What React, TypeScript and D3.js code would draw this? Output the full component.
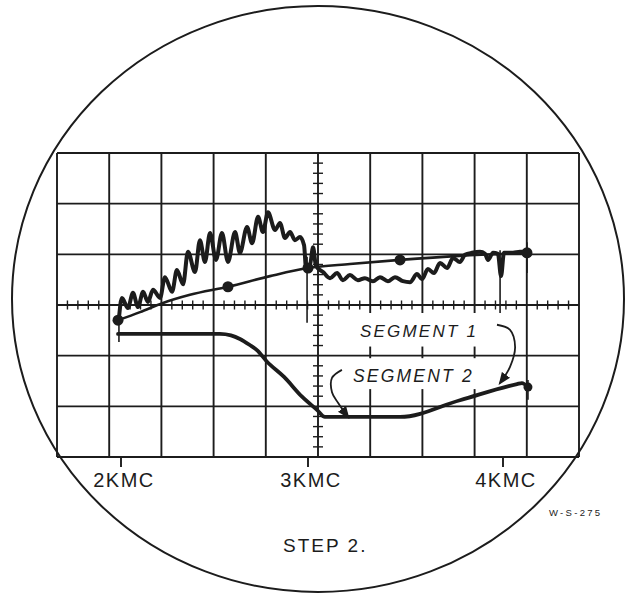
import React from "react";
import * as d3 from "d3";

// ---- data (frequency in KMC, vertical in screen divisions, 0 = centre line) ----
const freqTicks = [2, 3, 4];
const freqLabels = ["2KMC", "3KMC", "4KMC"];

// smooth reference trace with calibration dots
const refF = [1.984, 2.102, 2.225, 2.369, 2.572, 2.797, 3.0, 3.215, 3.472, 3.779, 4.123];
const refV = [-0.3, -0.14, 0.04, 0.2, 0.36, 0.57, 0.73, 0.81, 0.89, 0.97, 1.03];
const dotF = [1.984, 2.572, 3.0, 3.472, 4.123];
const dotV = [-0.3, 0.36, 0.73, 0.89, 1.03];

// swept response trace (segment 1)
const waveF = [
  1.989, 2.005, 2.037, 2.064, 2.091, 2.118, 2.144, 2.171, 2.209, 2.235, 2.273, 2.299, 2.332, 2.358,
  2.396, 2.422, 2.449, 2.476, 2.508, 2.54, 2.572, 2.61, 2.636, 2.674, 2.701, 2.733, 2.759, 2.786,
  2.824, 2.85, 2.877, 2.904, 2.93, 2.957, 2.979, 2.989, 3.01, 3.026, 3.041, 3.077, 3.113, 3.149,
  3.179, 3.215, 3.256, 3.292, 3.333, 3.369, 3.41, 3.446, 3.487, 3.523, 3.559, 3.585, 3.615, 3.646,
  3.677, 3.713, 3.744, 3.779, 3.805, 3.841, 3.882, 3.908, 3.923, 3.949, 3.974, 3.99, 4.005, 4.051,
  4.087, 4.123,
];
const waveV = [
  -0.26, 0.14, -0.06, 0.24, -0.04, 0.26, 0.06, 0.3, 0.14, 0.55, 0.26, 0.69, 0.41, 1.05,
  0.65, 1.28, 0.85, 1.42, 0.89, 1.42, 0.85, 1.44, 1.03, 1.54, 1.22, 1.74, 1.44, 1.83,
  1.48, 1.62, 1.32, 1.44, 1.28, 1.34, 1.18, 0.75, 0.79, 1.14, 0.77, 0.65, 0.53, 0.63,
  0.49, 0.59, 0.49, 0.53, 0.47, 0.55, 0.47, 0.55, 0.47, 0.45, 0.61, 0.51, 0.71, 0.63,
  0.83, 0.73, 0.93, 0.85, 0.99, 1.03, 1.05, 1.01, 0.89, 1.03, 1.01, 0.57, 1.03, 1.03,
  1.05, 1.05,
];

// segment 2 trace
const seg2F = [1.984, 2.529, 2.588, 2.636, 2.689, 2.727, 2.781, 2.872, 2.968, 3.046, 3.087, 3.472, 3.779, 4.072, 4.097, 4.128];
const seg2V = [-0.57, -0.57, -0.6, -0.67, -0.79, -0.89, -1.12, -1.42, -1.81, -2.07, -2.21, -2.21, -1.88, -1.56, -1.54, -1.62];

// thin vertical marker pips
const pipF = [1.989, 2.995, 3.985, 4.123, 4.128];
const pipV0 = [-0.3, 0.95, 1.08, 1.24, -1.48];
const pipV1 = [-0.73, -0.35, -0.16, 0.63, -1.87];

// annotation arrows
const arrow1F = [3.969, 4.036, 4.062, 4.036, 3.985];
const arrow1V = [-0.39, -0.49, -0.83, -1.22, -1.54];
const arrow2F = [3.174, 3.123, 3.123, 3.154, 3.205];
const arrow2V = [-1.28, -1.44, -1.72, -1.93, -2.21];

export default function App() {
  const W = 632, H = 593;
  const fx = d3.scaleLinear().domain([2, 3, 4]).range([121, 308, 503]);
  const gy = d3.scaleLinear().domain([-3, 3]).range([457, 153]);
  const gx = d3.scaleLinear().domain([0, 10]).range([57, 579]);
  const ink = "#1c1c1c";

  const smooth = d3.line<number>().x((_, i) => fx(refF[i])).y((_, i) => gy(refV[i])).curve(d3.curveMonotoneX);
  const wave = d3.line<number>().x((_, i) => fx(waveF[i])).y((_, i) => gy(waveV[i])).curve(d3.curveMonotoneX);
  const seg2 = d3.line<number>().x((_, i) => fx(seg2F[i])).y((_, i) => gy(seg2V[i])).curve(d3.curveMonotoneX);
  const a1 = d3.line<number>().x((_, i) => fx(arrow1F[i])).y((_, i) => gy(arrow1V[i])).curve(d3.curveCatmullRom);
  const a2 = d3.line<number>().x((_, i) => fx(arrow2F[i])).y((_, i) => gy(arrow2V[i])).curve(d3.curveCatmullRom);

  const vLines = d3.range(0, 11);
  const hLines = d3.range(-3, 4);
  const minorX = d3.range(0, 10.01, 0.2).filter((d) => Math.abs(d - Math.round(d)) > 0.01);
  const minorY = d3.range(-3, 3.01, 0.2).filter((d) => Math.abs(d - Math.round(d)) > 0.01);
  const y0 = gy(0), x0 = gx(5);

  const font = "'Liberation Sans', Arial, sans-serif";

  return (
    <svg width={W} height={H} style={{ position: "absolute", left: 0, top: 0, background: "#fff" }}>
      <defs>
        <marker id="ah" viewBox="0 0 10 10" refX="8" refY="5" markerWidth="7" markerHeight="7" orient="auto">
          <path d="M0,1 L10,5 L0,9 Z" fill={ink} />
        </marker>
      </defs>
      <rect width={W} height={H} fill="#fff" />
      {/* grid */}
      <g stroke={ink} strokeWidth={1.9}>
        {vLines.map((d) => (
          <line key={"v" + d} x1={gx(d)} x2={gx(d)} y1={gy(3)} y2={gy(-3)} />
        ))}
        {hLines.map((d) => (
          <line key={"h" + d} x1={gx(0)} x2={gx(10)} y1={gy(d)} y2={gy(d)} />
        ))}
        {minorX.map((d) => (
          <line key={"mx" + d} x1={gx(d)} x2={gx(d)} y1={y0 - 4.5} y2={y0 + 4.5} strokeWidth={1.4} />
        ))}
        {minorY.map((d) => (
          <line key={"my" + d} x1={x0 - 5} x2={x0 + 5} y1={gy(d)} y2={gy(d)} strokeWidth={1.4} />
        ))}
        {freqTicks.map((d) => (
          <line key={"ft" + d} x1={fx(d)} x2={fx(d)} y1={gy(-3)} y2={gy(-3) + 10} />
        ))}
      </g>
      {/* label clear areas */}
      <rect x={x0 + 7} y={y0 + 8} width={gx(9) - x0 - 12} height={gy(-0.82) - y0 - 8} fill="#fff" />
      <rect x={x0 + 7} y={gy(-1.05)} width={gx(9) - x0 - 12} height={gy(-1.66) - gy(-1.05)} fill="#fff" />

      {/* pips */}
      <g stroke={ink} strokeWidth={1.6}>
        {pipF.map((f, i) => (
          <line key={"p" + i} x1={fx(f)} x2={fx(f)} y1={gy(pipV0[i])} y2={gy(pipV1[i])} />
        ))}
      </g>
      {/* traces */}
      <path d={smooth(refF) || ""} fill="none" stroke={ink} strokeWidth={2.6} strokeLinecap="round" />
      <path d={wave(waveF) || ""} fill="none" stroke={ink} strokeWidth={4} strokeLinecap="round" strokeLinejoin="round" />
      <path d={seg2(seg2F) || ""} fill="none" stroke={ink} strokeWidth={3.8} strokeLinecap="round" strokeLinejoin="round" />
      {dotF.map((f, i) => (
        <circle key={"d" + i} cx={fx(f)} cy={gy(dotV[i])} r={5.5} fill={ink} />
      ))}
      <circle cx={fx(seg2F[seg2F.length - 1])} cy={gy(seg2V[seg2V.length - 1])} r={4.5} fill={ink} />

      {/* annotations */}
      <path d={a1(arrow1F) || ""} fill="none" stroke={ink} strokeWidth={1.8} markerEnd="url(#ah)" />
      <path d={a2(arrow2F) || ""} fill="none" stroke={ink} strokeWidth={1.8} markerEnd="url(#ah)" />
      <text x={360} y={337} fontFamily={font} fontStyle="italic" fontSize={17} letterSpacing={2.2} fill={ink}>SEGMENT 1</text>
      <text x={353} y={382} fontFamily={font} fontStyle="italic" fontSize={17.5} letterSpacing={2.2} fill={ink}>SEGMENT 2</text>

      {freqTicks.map((d, i) => (
        <text key={"fl" + d} x={fx(d) + 3} y={487} textAnchor="middle" fontFamily={font} fontSize={20} letterSpacing={1.5} fill={ink}>
          {freqLabels[i]}
        </text>
      ))}
      <text x={283} y={552} fontFamily={font} fontSize={19} letterSpacing={2} fill={ink}>STEP 2.</text>
      <text x={549} y={516} fontFamily={font} fontSize={9.5} letterSpacing={2.3} fill={ink}>W-S-275</text>

      {/* CRT bezel */}
      <ellipse cx={318} cy={299} rx={306} ry={293} fill="none" stroke={ink} strokeWidth={2} />
    </svg>
  );
}
